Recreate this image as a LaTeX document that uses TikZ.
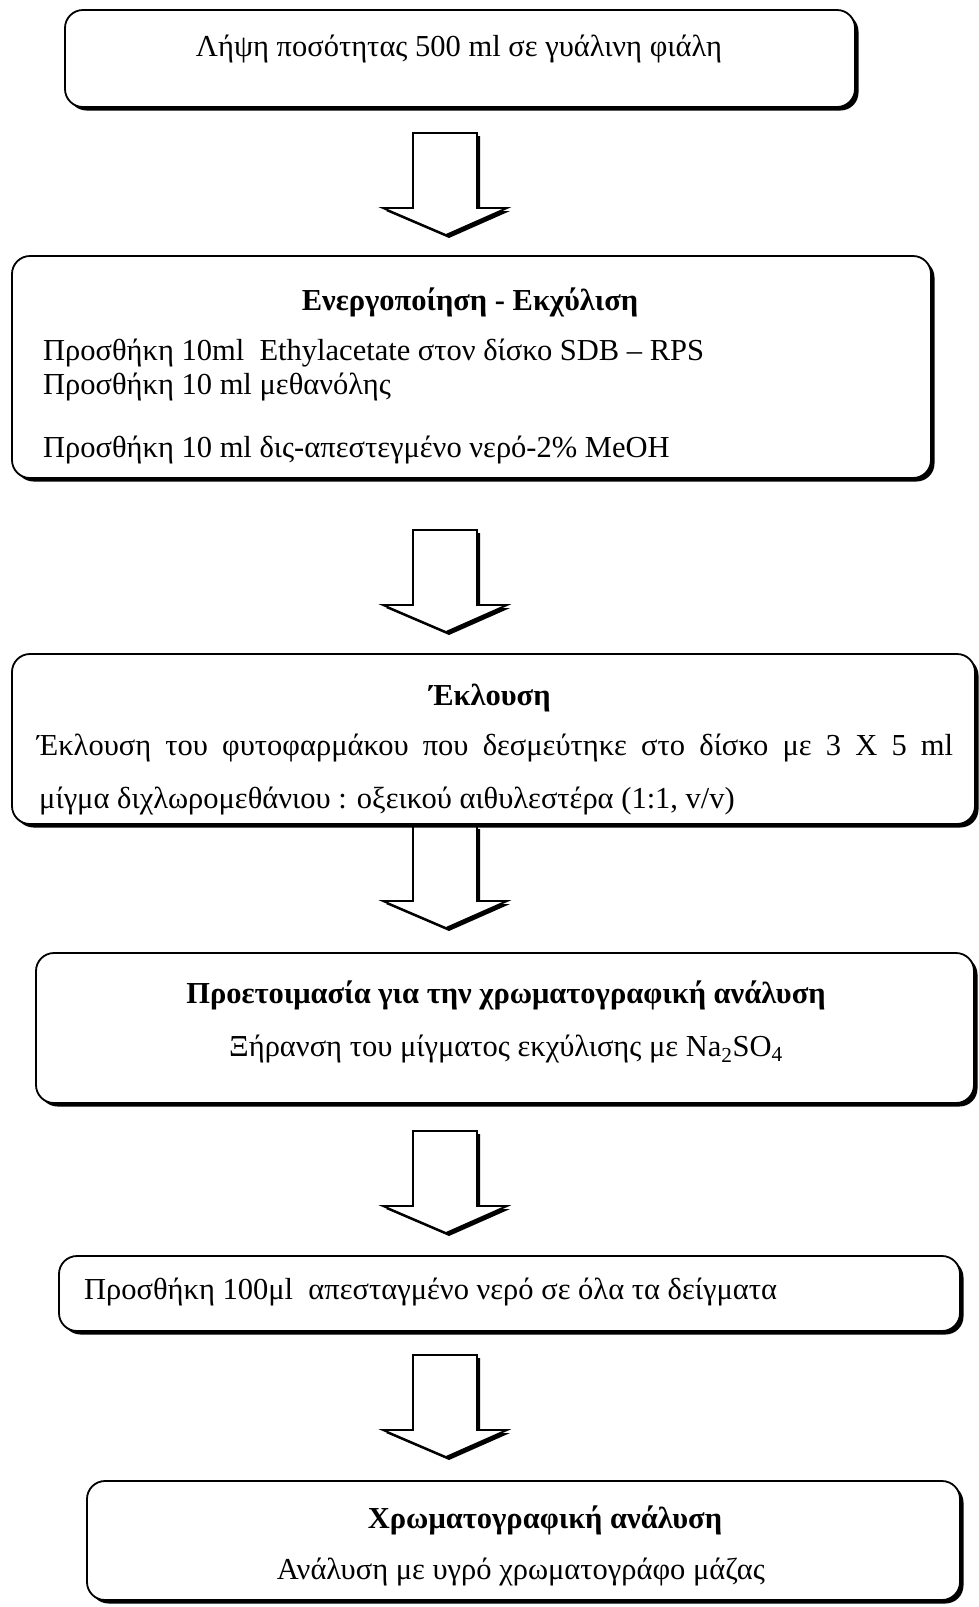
\documentclass[tikz,border=0pt]{standalone}
\usepackage{fontspec}
\setmainfont{Liberation Serif}
\usetikzlibrary{shadows}
\tikzset{
  procbox/.style={draw=black, line width=1.8pt, fill=white, rounded corners=18pt,
    drop shadow={shadow xshift=3.5pt, shadow yshift=-3.5pt, fill=black, opacity=1},
    inner sep=0pt},
  txt/.style={inner sep=0pt, font=\fontsize{30.5}{36}\selectfont},
  ttl/.style={inner sep=0pt, font=\fontsize{30.5}{36}\selectfont\bfseries},
  blockarr/.style={draw=black, line width=1.9pt, fill=white, line join=miter,
    drop shadow={shadow xshift=3pt, shadow yshift=-3pt, fill=black, opacity=1}},
  downarrow/.pic={
    \draw[blockarr] (-32,0) -- (32,0) -- (32,75) -- (62,75) -- (1,102) -- (-62,75) -- (-32,75) -- cycle;
  }
}
\begin{document}
\begin{tikzpicture}[x=1pt,y=-1pt]
\useasboundingbox[fill=white] (0,0) rectangle (978,1607);

% arrows
\pic (a1) at (445,133) {downarrow};
\pic (a2) at (445,530) {downarrow};
\pic (a3) at (445,826) {downarrow};
\pic (a4) at (445,1131) {downarrow};
\pic (a5) at (445,1355) {downarrow};

% boxes
\node[procbox, minimum width=790pt, minimum height=97pt] (b1) at (460,58.5) {};
\node[procbox, minimum width=919pt, minimum height=222pt] (b2) at (471.5,367) {};
\node[procbox, minimum width=963pt, minimum height=170pt] (b3) at (493.5,739) {};
\node[procbox, minimum width=938pt, minimum height=150pt] (b4) at (505,1028) {};
\node[procbox, minimum width=901pt, minimum height=75pt] (b5) at (509.5,1293.5) {};
\node[procbox, minimum width=873pt, minimum height=119pt] (b6) at (523.5,1540.5) {};

% texts
\node[txt] (t1) at (459,49) {Λήψη ποσότητας 500 ml σε γυάλινη φιάλη};

\node[ttl] (t2a) at (470,302) {Ενεργοποίηση - Εκχύλιση};
\node[txt, anchor=west] (t2b) at (43,353) {Προσθήκη 10ml\ \ Ethylacetate στον δίσκο SDB – RPS};
\node[txt, anchor=west] (t2c) at (43,387) {Προσθήκη 10 ml μεθανόλης};
\node[txt, anchor=west] (t2d) at (43,450) {Προσθήκη 10 ml δις-απεστεγμένο νερό-2\% MeOH};

\node[ttl] (t3a) at (490,698) {Έκλουση};
\node[txt, anchor=west] (t3b) at (37,748) {\makebox[916pt][s]{Έκλουση του φυτοφαρμάκου που δεσμεύτηκε στο δίσκο με 3 X 5 ml}};
\node[txt, anchor=west] (t3c) at (39,801) {μίγμα διχλωρομεθάνιου : οξεικού αιθυλεστέρα (1:1, v/v)};

\node[ttl] (t4a) at (506,995) {Προετοιμασία για την χρωματογραφική ανάλυση};
\node[txt] (t4b) at (506,1049) {Ξήρανση του μίγματος εκχύλισης με Na\textsubscript{2}SO\textsubscript{4}};

\node[txt, anchor=west] (t5) at (84,1292) {Προσθήκη 100μl\ \ απεσταγμένο νερό σε όλα τα δείγματα};

\node[ttl] (t6a) at (545,1520) {Χρωματογραφική ανάλυση};
\node[txt] (t6b) at (521,1572) {Ανάλυση με υγρό χρωματογράφο μάζας};
\end{tikzpicture}
\end{document}
